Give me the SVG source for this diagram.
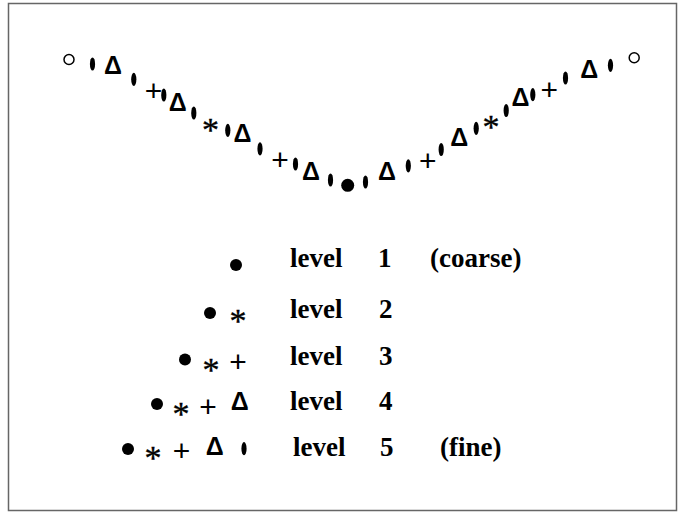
<svg xmlns="http://www.w3.org/2000/svg" width="678" height="512" viewBox="0 0 678 512">
<style>
.lbl{font-family:"Liberation Serif","Times New Roman",serif;font-weight:bold;font-size:27px;fill:#000}
.pl{font-family:"Liberation Sans",Arial,sans-serif;font-size:30px;fill:#000;text-anchor:middle}
.as{font-family:"Liberation Serif","Times New Roman",serif;font-size:34px;fill:#000;stroke:#000;stroke-width:0.4;text-anchor:middle}
.dl{font-family:"Liberation Sans",Arial,sans-serif;font-weight:bold;font-size:25px;fill:#000;text-anchor:middle}
.el{fill:#000}
.oc{fill:#fff;stroke:#000;stroke-width:1.5}
</style>
<defs>
<ellipse id="e" cx="0" cy="0" rx="2.6" ry="6.6" class="el"/>
</defs>
<rect x="8.5" y="3.5" width="668" height="507" fill="#fff" stroke="#666" stroke-width="1.5"/>
<g id="curve">
<circle cx="69" cy="59.5" r="5" class="oc"/>
<circle cx="634.2" cy="57.8" r="5" class="oc"/>
<circle cx="347.7" cy="185.3" r="6.5"/>
<use href="#e" x="92.5" y="64"/>
<use href="#e" x="133.8" y="79.3"/>
<use href="#e" x="163.8" y="95"/>
<use href="#e" x="193.8" y="113"/>
<use href="#e" x="227.8" y="130.3"/>
<use href="#e" x="260" y="148.8"/>
<use href="#e" x="295.5" y="164"/>
<use href="#e" x="330.5" y="180"/>
<use href="#e" x="365.5" y="182"/>
<use href="#e" x="408.3" y="165.8"/>
<use href="#e" x="441.2" y="149.5"/>
<use href="#e" x="476.2" y="128.3"/>
<use href="#e" x="506.2" y="110.5"/>
<use href="#e" x="532.8" y="94.7"/>
<use href="#e" x="565.5" y="78"/>
<use href="#e" x="610.5" y="65.3"/>
<text class="dl" x="113" y="73.5">Δ</text>
<text class="dl" x="177.8" y="110.5">Δ</text>
<text class="dl" x="242.5" y="142">Δ</text>
<text class="dl" x="311" y="179.5">Δ</text>
<text class="dl" x="387" y="179.5">Δ</text>
<text class="dl" x="459.2" y="145.5">Δ</text>
<text class="dl" x="520.5" y="105.5">Δ</text>
<text class="dl" x="589.2" y="77.5">Δ</text>
<text class="pl" x="153.5" y="101.2">+</text>
<text class="pl" x="280" y="169.5">+</text>
<text class="pl" x="427.8" y="170.7">+</text>
<text class="pl" x="549.2" y="100.4">+</text>
<text class="as" x="210.5" y="140.8">*</text>
<text class="as" x="491" y="138">*</text>
</g>
<g id="level1">
<circle cx="236" cy="265" r="6"/>
<text class="lbl" x="290" y="266.5">level</text>
<text class="lbl" x="378" y="266.5">1</text>
<text class="lbl" x="430" y="266.5">(coarse)</text>
</g>
<g id="level2">
<circle cx="210" cy="313" r="6"/>
<text class="as" x="238" y="332">*</text>
<text class="lbl" x="290" y="318">level</text>
<text class="lbl" x="379" y="318">2</text>
</g>
<g id="level3">
<circle cx="185" cy="359.5" r="6"/>
<text class="as" x="211" y="380.7">*</text>
<text class="pl" x="238" y="371.7">+</text>
<text class="lbl" x="290" y="365">level</text>
<text class="lbl" x="379" y="365">3</text>
</g>
<g id="level4">
<circle cx="157" cy="404" r="6"/>
<text class="as" x="181" y="425">*</text>
<text class="pl" x="208" y="416.7">+</text>
<text class="dl" x="239.7" y="409.5">Δ</text>
<text class="lbl" x="290" y="410">level</text>
<text class="lbl" x="379" y="410">4</text>
</g>
<g id="level5">
<circle cx="128" cy="449" r="6"/>
<text class="as" x="153" y="468.5">*</text>
<text class="pl" x="181.5" y="460.7">+</text>
<text class="dl" x="214.7" y="454.5">Δ</text>
<use href="#e" x="244" y="448.7"/>
<text class="lbl" x="293" y="456">level</text>
<text class="lbl" x="380" y="456">5</text>
<text class="lbl" x="440" y="456">(fine)</text>
</g>
</svg>
